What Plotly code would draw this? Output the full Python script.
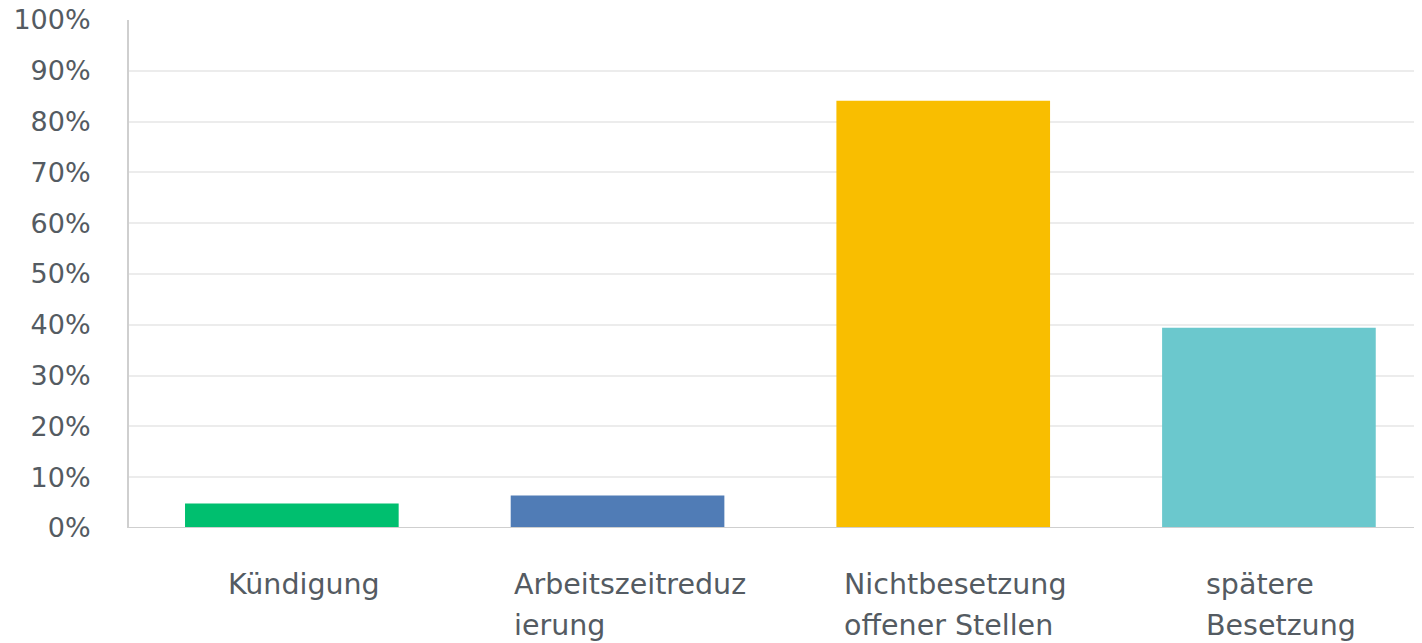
import plotly.graph_objects as go

categories = ["Kündigung", "Arbeitszeitreduzierung", "Nichtbesetzung offener Stellen", "spätere Besetzung"]
label_lines = [["Kündigung"], ["Arbeitszeitreduz", "ierung"], ["Nichtbesetzung", "offener Stellen"], ["spätere", "Besetzung"]]
values = [4.8, 6.4, 84.1, 39.4]
colors = ["#00bf6f", "#507cb6", "#f9be00", "#6bc8cd"]
y_ticks = list(range(0, 101, 10))
y_labels = [f"{v}%" for v in y_ticks]

FONT = "DejaVu Sans"
TEXT_COLOR = "#545b62"
HIDE = "<span style='color:rgba(0,0,0,0)'>{}</span>"

fig = go.Figure()
fig.add_trace(go.Bar(
    x=list(range(len(categories))), y=values,
    marker=dict(color=colors, line=dict(width=0)),
    hovertext=categories, hoverinfo="text+y",
))

annotations = []
for i, lines in enumerate(label_lines):
    for k in range(len(lines)):
        parts = [ln if j == k else HIDE.format(ln) for j, ln in enumerate(lines)]
        annotations.append(dict(
            x=i, xref="x", y=0, yref="paper", yanchor="top", xanchor="center",
            align="left", showarrow=False, text="<br>".join(parts),
            xshift=12, yshift=-38 - 4 * k,
            font=dict(family=FONT, size=28.5, color=TEXT_COLOR),
        ))

# page body has an 8px margin, so the figure is sized to fill the rest of the window
fig.update_layout(
    width=1414, height=635,
    margin=dict(l=121, r=0, t=12, b=115, autoexpand=False),
    plot_bgcolor="white", paper_bgcolor="white",
    bargap=0.344,
    showlegend=False,
    annotations=annotations,
    xaxis=dict(range=[-0.5, 3.47], showticklabels=False, showgrid=False,
               zeroline=False, showline=False, fixedrange=True, automargin=False),
    yaxis=dict(range=[0, 100], tickvals=y_ticks, ticktext=y_labels,
               showgrid=True, gridcolor="#ececec", gridwidth=1.5,
               zeroline=False, showline=True, linecolor="#cfcfcf", linewidth=2,
               ticks="", ticklabelstandoff=31, ticklabeloverflow="allow",
               automargin=False,
               tickfont=dict(family=FONT, size=27, color=TEXT_COLOR)),
    shapes=[dict(type="line", xref="paper", yref="y", x0=0, x1=1, y0=0, y1=0,
                 line=dict(color="#cfcfcf", width=2))],
)

fig.write_html("out.html")
